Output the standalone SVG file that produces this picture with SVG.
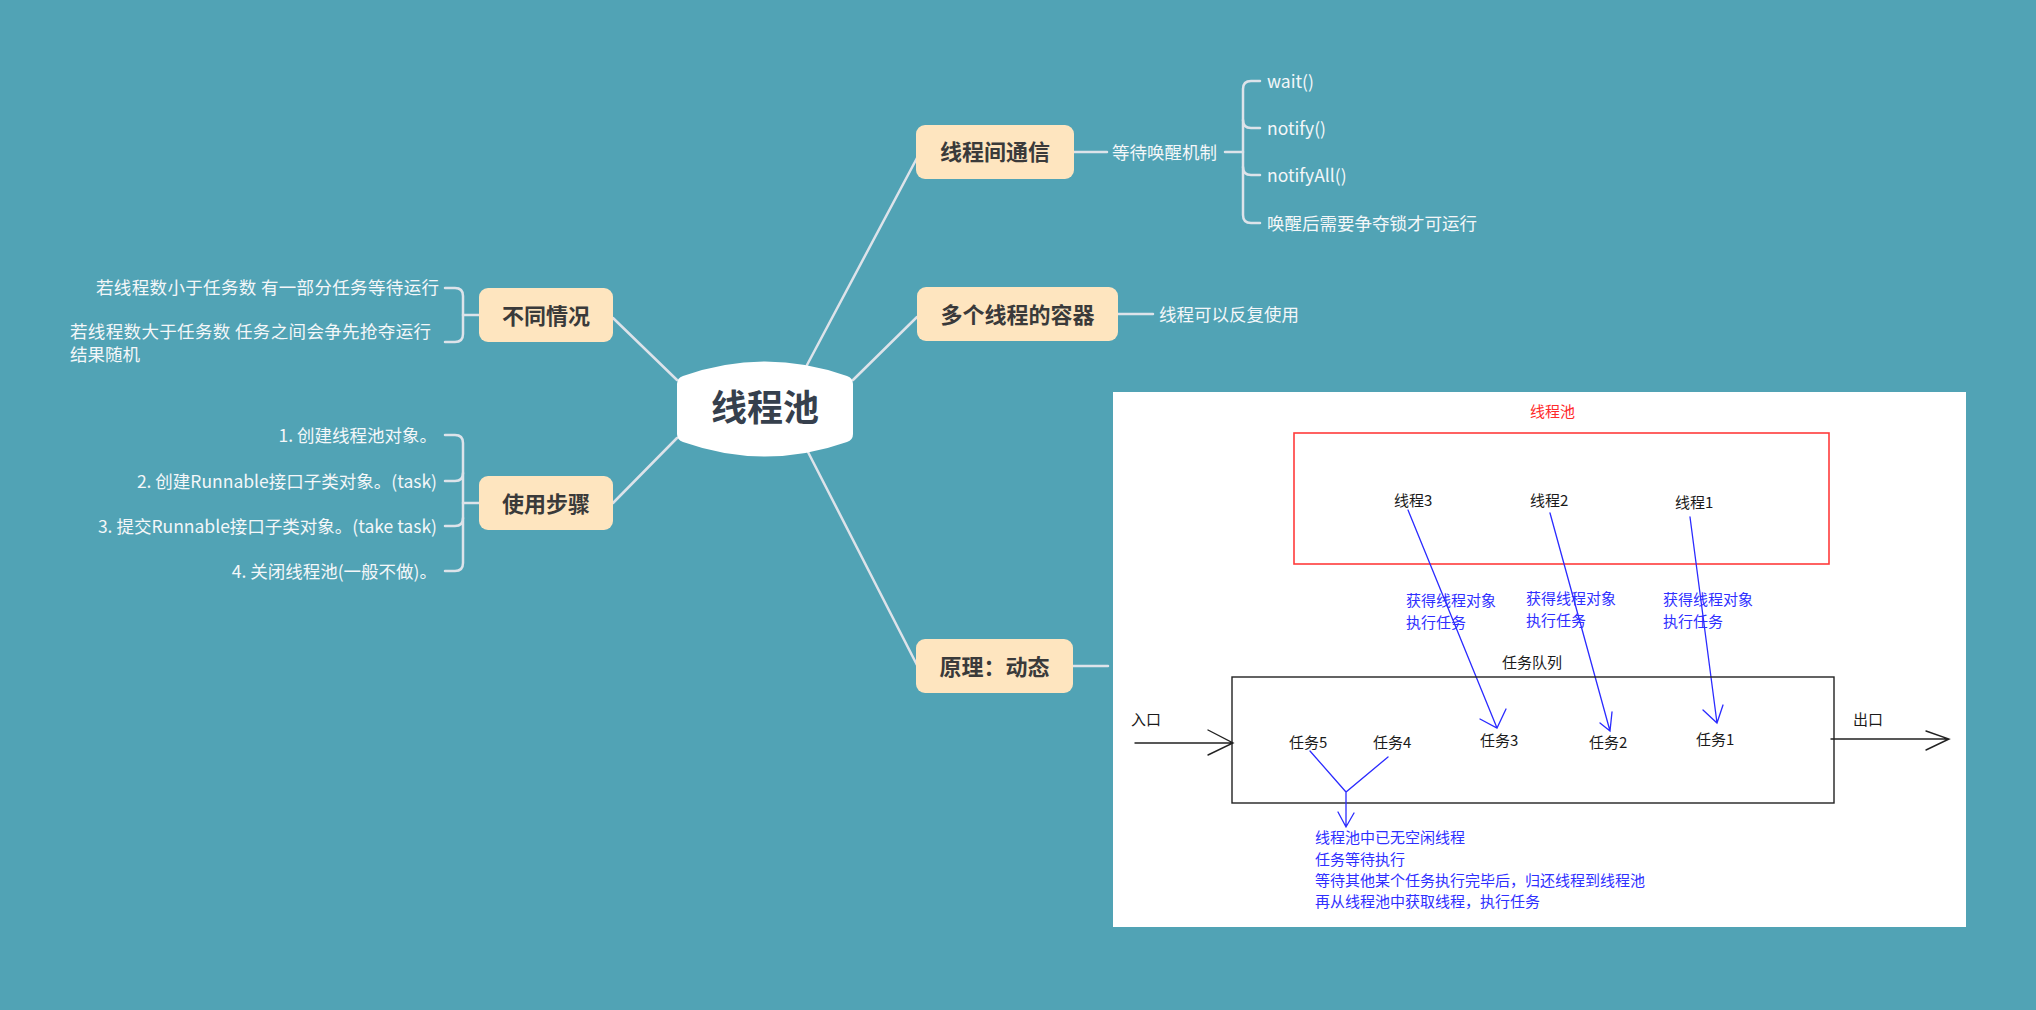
<svg xmlns="http://www.w3.org/2000/svg" width="2036" height="1010" viewBox="0 0 2036 1010">
  <style>
    .link { fill: none; stroke: #dde3ea; stroke-width: 2.5; stroke-linecap: round; stroke-linejoin: round; }
    .topic-box { fill: #fee5bf; }
    .topic-text { font-family: "Noto Sans CJK SC", "Noto Sans", sans-serif; font-weight: bold; font-size: 22px; fill: #3a3a3a; text-anchor: middle; }
    .leaf { font-family: "Noto Sans CJK SC", "Noto Sans", sans-serif; font-size: 17.5px; fill: #f4f7f9; }
    .pt { font-family: "Noto Sans CJK SC", "Noto Sans", sans-serif; font-size: 15px; fill: #1a1a1a; }
    .pt-red { fill: #ff2a2a; }
    .pt-blue { fill: #2f2fff; }
    .bl { fill: none; stroke: #2b2bff; stroke-width: 1.3; stroke-linecap: round; }
    .blk { fill: none; stroke: #222; stroke-width: 1.4; stroke-linecap: round; }
  </style>

  <rect width="2036" height="1010" fill="#51a3b5"/>

  <!-- connectors -->
  <g id="connectors">
    <!-- central topic to main topics -->
    <path class="link" d="M807,365 L917,158"/>
    <path class="link" d="M853,380 L917,317"/>
    <path class="link" d="M808,452 L917,665"/>
    <path class="link" d="M677,380 L613,318"/>
    <path class="link" d="M677,438 L613,503"/>

    <!-- 线程间通信 -> 等待唤醒机制 -> bracket -->
    <path class="link" d="M1074,152 H1107"/>
    <path class="link" d="M1225,152 H1243"/>
    <path class="link" d="M1260,81 H1251 Q1243,81 1243,89 V215 Q1243,223 1251,223 H1260"/>
    <path class="link" d="M1243,120 Q1243,128 1251,128 H1260"/>
    <path class="link" d="M1243,167 Q1243,175 1251,175 H1260"/>

    <!-- 多个线程的容器 -> leaf -->
    <path class="link" d="M1118,314 H1153"/>

    <!-- 原理：动态 -> panel -->
    <path class="link" d="M1073,666 H1108"/>

    <!-- 不同情况 bracket -->
    <path class="link" d="M463,315 H479"/>
    <path class="link" d="M445,288 H455 Q463,288 463,296 V334 Q463,342 455,342 H445"/>

    <!-- 使用步骤 bracket -->
    <path class="link" d="M463,503 H479"/>
    <path class="link" d="M445,435 H455 Q463,435 463,443 V563 Q463,571 455,571 H445"/>
    <path class="link" d="M463,473 Q463,481 455,481 H445"/>
    <path class="link" d="M463,518 Q463,526 455,526 H445"/>
  </g>

  <!-- central topic -->
  <g id="node-center">
    <path d="M683,376 Q765,347 847,376 Q853,378 853,384 L853,434 Q853,440 847,442 Q765,471 683,442 Q677,440 677,434 L677,384 Q677,378 683,376 Z" fill="#ffffff"/>
    <text x="765" y="421" font-family="Noto Sans CJK SC, Noto Sans, sans-serif" font-weight="bold" font-size="36" fill="#36404d" text-anchor="middle">线程池</text>
  </g>

  <g id="node-communication">
    <rect class="topic-box" x="916" y="125" width="158" height="54" rx="9"/>
    <text class="topic-text" x="995" y="160">线程间通信</text>
  </g>
  <g id="node-wait-notify">
    <text class="leaf" x="1112" y="158.5" font-size="18">等待唤醒机制</text>
  </g>
  <g id="node-wait"><text class="leaf" x="1267" y="88">wait()</text></g>
  <g id="node-notify"><text class="leaf" x="1267" y="135">notify()</text></g>
  <g id="node-notifyall"><text class="leaf" x="1267" y="182">notifyAll()</text></g>
  <g id="node-lock"><text class="leaf" x="1267" y="230">唤醒后需要争夺锁才可运行</text></g>

  <g id="node-container">
    <rect class="topic-box" x="917" y="287" width="201" height="54" rx="9"/>
    <text class="topic-text" x="1017.5" y="322.5">多个线程的容器</text>
  </g>
  <g id="node-reuse">
    <text class="leaf" x="1159" y="320.5" font-size="20">线程可以反复使用</text>
  </g>

  <g id="node-principle">
    <rect class="topic-box" x="916" y="639" width="157" height="54" rx="9"/>
    <text class="topic-text" x="994.5" y="674.5">原理：动态</text>
  </g>

  <g id="node-cases">
    <rect class="topic-box" x="479" y="288" width="134" height="54" rx="9"/>
    <text class="topic-text" x="546" y="323.5">不同情况</text>
  </g>
  <g id="node-case-fewer">
    <text class="leaf" x="439" y="294" text-anchor="end" textLength="343">若线程数小于任务数  有一部分任务等待运行</text>
  </g>
  <g id="node-case-more">
    <text class="leaf" x="70" y="337.5" textLength="361">若线程数大于任务数  任务之间会争先抢夺运行</text>
    <text class="leaf" x="70" y="360.5">结果随机</text>
  </g>

  <g id="node-steps">
    <rect class="topic-box" x="479" y="476" width="134" height="54" rx="9"/>
    <text class="topic-text" x="546" y="511.5">使用步骤</text>
  </g>
  <g id="node-step1"><text class="leaf" x="437" y="442" text-anchor="end">1. 创建线程池对象。</text></g>
  <g id="node-step2"><text class="leaf" x="437" y="487.5" text-anchor="end">2. 创建Runnable接口子类对象。(task)</text></g>
  <g id="node-step3"><text class="leaf" x="437" y="532.5" text-anchor="end">3. 提交Runnable接口子类对象。(take task)</text></g>
  <g id="node-step4"><text class="leaf" x="437" y="577.5" text-anchor="end">4. 关闭线程池(一般不做)。</text></g>

  <!-- thread pool / task queue sketch -->
  <g id="principle-panel">
    <rect x="1113" y="392" width="853" height="535" fill="#ffffff"/>

    <text class="pt pt-red" x="1530" y="417">线程池</text>
    <rect x="1294" y="433" width="535" height="131" fill="none" stroke="#ff3b3b" stroke-width="1.6"/>

    <text class="pt" x="1394" y="506">线程3</text>
    <text class="pt" x="1530" y="505.5">线程2</text>
    <text class="pt" x="1675" y="507.5">线程1</text>

    <!-- threads taking tasks -->
    <path class="bl" d="M1408,510 L1497,728 M1480,719 L1497,728 L1506,709"/>
    <path class="bl" d="M1550,513 L1610,731 M1600,723 L1610,731 L1612,712"/>
    <path class="bl" d="M1690,517 L1717,723 M1703,710 L1717,723 L1723,705"/>

    <text class="pt pt-blue" x="1406" y="606">获得线程对象</text>
    <text class="pt pt-blue" x="1406" y="628">执行任务</text>
    <text class="pt pt-blue" x="1526" y="604">获得线程对象</text>
    <text class="pt pt-blue" x="1526" y="626">执行任务</text>
    <text class="pt pt-blue" x="1663" y="605">获得线程对象</text>
    <text class="pt pt-blue" x="1663" y="627">执行任务</text>

    <text class="pt" x="1502" y="668">任务队列</text>
    <rect x="1232" y="677" width="602" height="126" fill="none" stroke="#222" stroke-width="1.4"/>

    <text class="pt" x="1131" y="725">入口</text>
    <path class="blk" d="M1135,743 L1233,743 M1208,730 L1233,743 L1208,755"/>
    <text class="pt" x="1853" y="725">出口</text>
    <path class="blk" d="M1831,739 L1949,739 M1926,731 L1949,739 L1926,750"/>

    <text class="pt" x="1289" y="748">任务5</text>
    <text class="pt" x="1373" y="748">任务4</text>
    <text class="pt" x="1480" y="745.5">任务3</text>
    <text class="pt" x="1589" y="748">任务2</text>
    <text class="pt" x="1696" y="745">任务1</text>

    <!-- waiting tasks -->
    <path class="bl" d="M1310,751 L1346,792 L1388,757 M1346,792 L1346,827 M1338,812 L1346,827 L1354,813"/>

    <text class="pt pt-blue" x="1315" y="843">线程池中已无空闲线程</text>
    <text class="pt pt-blue" x="1315" y="865">任务等待执行</text>
    <text class="pt pt-blue" x="1315" y="886">等待其他某个任务执行完毕后，归还线程到线程池</text>
    <text class="pt pt-blue" x="1315" y="907">再从线程池中获取线程，执行任务</text>
  </g>
</svg>
